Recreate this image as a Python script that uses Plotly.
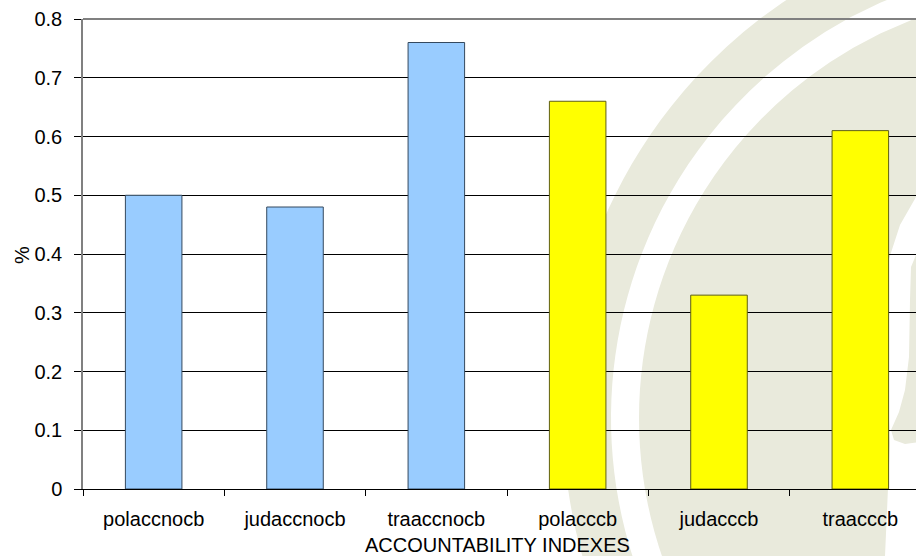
import math
import plotly.graph_objects as go

# ---- data ----
categories = ["polaccnocb", "judaccnocb", "traaccnocb", "polacccb", "judacccb", "traacccb"]
values = [0.50, 0.48, 0.76, 0.66, 0.33, 0.61]
bar_colors = ["#99CCFF", "#99CCFF", "#99CCFF", "#FFFF00", "#FFFF00", "#FFFF00"]
bar_edges = ["#34495E", "#34495E", "#34495E", "#5E5E10", "#5E5E10", "#5E5E10"]
y_ticks = [0, 0.1, 0.2, 0.3, 0.4, 0.5, 0.6, 0.7, 0.8]
y_ticktext = ["0", "0.1", "0.2", "0.3", "0.4", "0.5", "0.6", "0.7", "0.8"]

W, H = 916, 556
ML, MR, MT, MB = 83, 0, 19, 67
PW, PH = W - ML - MR, H - MT - MB
FONT = "Liberation Sans, Arial, sans-serif"
FS = 20


def to_paper(x, y):
    return (x - ML) / PW, (H - MB - y) / PH


def path_from(points):
    s = []
    for i, (x, y) in enumerate(points):
        px, py = to_paper(x, y)
        s.append(("M" if i == 0 else "L") + f"{px:.5f},{py:.5f}")
    return " ".join(s) + " Z"


def arc_edge(cx, cy, r, y0, y1, n=40):
    pts = []
    for i in range(n + 1):
        y = y0 + (y1 - y0) * i / n
        d = r * r - (y - cy) ** 2
        x = cx - math.sqrt(max(d, 0))
        pts.append((x, y))
    return pts


# watermark (background decoration)
CX, CY = 1066, 418
outerA = arc_edge(CX, CY, 503, -12, 575)
innerA = arc_edge(CX, CY, 455, -12, 575)
bandA = outerA + innerA[::-1]

outerB = arc_edge(CX, CY, 427, 5, 575)
innerB = [(885, 575), (885, 556), (890, 443), (886, 350), (888, 262),
          (900, 225), (916, 197), (940, 170), (965, 5)]
bandB = outerB + innerB

blobC = [(935, 248), (916, 255), (911, 267), (910, 300), (909, 357),
         (905, 390), (899, 412), (891, 430), (894, 440), (905, 444), (935, 440)]

WM = "#E9EADC"
shapes = []
for pts in (bandA, bandB, blobC):
    shapes.append(dict(type="path", xref="paper", yref="paper", path=path_from(pts),
                       fillcolor=WM, line=dict(width=0), layer="below"))
# top plot border
shapes.append(dict(type="line", xref="paper", yref="paper", x0=0, x1=1, y0=1, y1=1,
                   line=dict(color="#808080", width=2), layer="above"))

fig = go.Figure()
fig.add_trace(go.Bar(
    x=categories, y=values, width=0.4,
    marker=dict(color=bar_colors, line=dict(color=bar_edges, width=1)),
    hoverinfo="x+y",
))

fig.update_layout(
    width=W, height=H,
    margin=dict(l=ML, r=MR, t=MT, b=MB, pad=0),
    paper_bgcolor="white",
    plot_bgcolor="rgba(0,0,0,0)",
    showlegend=False,
    font=dict(family=FONT, size=FS, color="black"),
    shapes=shapes,
    xaxis=dict(
        type="category",
        range=[-0.5, -0.5 + 6 * PW / 848],
        tickson="boundaries",
        ticks="outside", ticklen=6, tickcolor="black", tickwidth=1,
        showline=True, linecolor="black", linewidth=1,
        showgrid=False, zeroline=False,
        tickfont=dict(family=FONT, size=FS, color="black"),
        ticklabelstandoff=12,
    ),
    yaxis=dict(
        range=[0, 0.8],
        tickvals=y_ticks, ticktext=y_ticktext,
        ticks="outside", ticklen=7, tickcolor="black", tickwidth=1,
        showline=True, linecolor="#808080", linewidth=1.5,
        showgrid=True, gridcolor="black", gridwidth=1,
        zeroline=False,
        tickfont=dict(family=FONT, size=FS, color="black"),
        ticklabelstandoff=8,
    ),
    annotations=[
        dict(text="ACCOUNTABILITY INDEXES", xref="paper", yref="paper",
             x=(497 - ML) / PW, y=(H - MB - 545) / PH, showarrow=False,
             xanchor="center", yanchor="middle",
             font=dict(family=FONT, size=FS, color="black")),
        dict(text="%", xref="paper", yref="paper",
             x=(22 - ML) / PW, y=(H - MB - 255) / PH, showarrow=False,
             textangle=-90, xanchor="center", yanchor="middle",
             font=dict(family=FONT, size=FS, color="black")),
    ],
)

fig.write_html(
    "out.html",
    config={"displayModeBar": False},
    post_script="document.body.style.margin='0';document.body.style.overflow='hidden';",
)
